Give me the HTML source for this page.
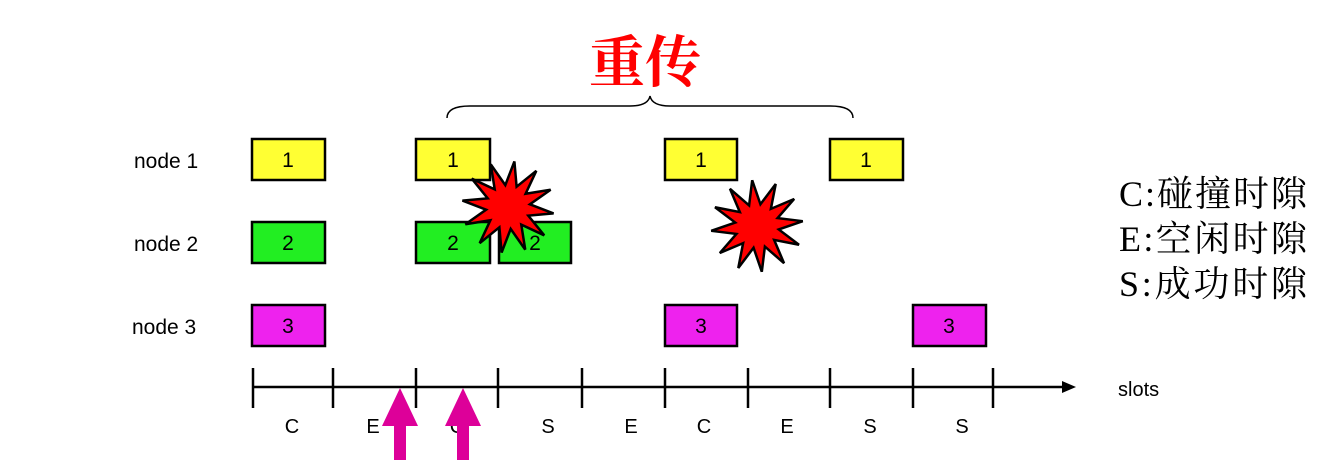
<!DOCTYPE html>
<html><head><meta charset="utf-8"><style>
html,body{margin:0;padding:0;background:#fff;}
</style></head><body>
<svg width="1332" height="467" xmlns="http://www.w3.org/2000/svg" style="display:block">
<defs>
<polygon id="star" points="46,0 21.3,5.7 39.8,23 15.6,15.6 23,39.8 5.7,21.3 0,46 -5.7,21.3 -23,39.8 -15.6,15.6 -39.8,23 -21.3,5.7 -46,0 -21.3,-5.7 -39.8,-23 -15.6,-15.6 -23,-39.8 -5.7,-21.3 0,-46 5.7,-21.3 23,-39.8 15.6,-15.6 39.8,-23 21.3,-5.7" fill="#ff0000" stroke="#000" stroke-width="2.5"/>
</defs>
<text x="645" y="82" text-anchor="middle" font-family="Liberation Serif, Noto Serif CJK SC, serif" font-weight="bold" font-size="56" fill="#ff0000">重传</text>
<path d="M447,118 Q447,106 470,106 L630,106 Q648,106 650,96 Q652,106 670,106 L830,106 Q853,106 853,118" fill="none" stroke="#000" stroke-width="1.5"/>
<g font-family="Liberation Sans, sans-serif" font-size="21" fill="#000">
<text x="134" y="168">node 1</text>
<text x="134" y="251">node 2</text>
<text x="132" y="334">node 3</text>
</g>
<g stroke="#000" stroke-width="2.5" font-family="Liberation Sans, sans-serif" font-size="20" text-anchor="middle">
<rect x="252" y="139" width="73" height="41" fill="#ffff33"/>
<rect x="416" y="139" width="74" height="41" fill="#ffff33"/>
<rect x="665" y="139" width="72" height="41" fill="#ffff33"/>
<rect x="830" y="139" width="73" height="41" fill="#ffff33"/>
<rect x="252" y="222" width="73" height="41" fill="#22ee22"/>
<rect x="416" y="222" width="74" height="41" fill="#22ee22"/>
<rect x="499" y="222" width="72" height="41" fill="#22ee22"/>
<rect x="252" y="305" width="73" height="41" fill="#ee22ee"/>
<rect x="665" y="305" width="72" height="41" fill="#ee22ee"/>
<rect x="913" y="305" width="73" height="41" fill="#ee22ee"/>
</g>
<g font-family="Liberation Sans, sans-serif" font-size="21" text-anchor="middle" fill="#000">
<text x="288" y="167">1</text><text x="453" y="167">1</text><text x="701" y="167">1</text><text x="866" y="167">1</text>
<text x="288" y="250">2</text><text x="453" y="250">2</text><text x="535" y="250">2</text>
<text x="288" y="333">3</text><text x="701" y="333">3</text><text x="949" y="333">3</text>
</g>
<use href="#star" transform="translate(508,207) rotate(8)"/>
<use href="#star" transform="translate(757,226) rotate(-6)"/>
<g stroke="#000" stroke-width="2.5">
<line x1="253" y1="387" x2="1065" y2="387"/>
<line x1="253" y1="368" x2="253" y2="408"/><line x1="333" y1="368" x2="333" y2="408"/>
<line x1="416" y1="368" x2="416" y2="408"/><line x1="498" y1="368" x2="498" y2="408"/>
<line x1="582" y1="368" x2="582" y2="408"/><line x1="665" y1="368" x2="665" y2="408"/>
<line x1="748" y1="368" x2="748" y2="408"/><line x1="830" y1="368" x2="830" y2="408"/>
<line x1="913" y1="368" x2="913" y2="408"/><line x1="993" y1="368" x2="993" y2="408"/>
</g>
<polygon points="1076,387 1062,381 1062,393" fill="#000"/>
<text x="1118" y="396" font-family="Liberation Sans, sans-serif" font-size="20">slots</text>
<g font-family="Liberation Sans, sans-serif" font-size="20" text-anchor="middle" fill="#000">
<text x="292" y="433">C</text><text x="373" y="433">E</text><text x="457" y="433">C</text>
<text x="548" y="433">S</text><text x="631" y="433">E</text><text x="704" y="433">C</text>
<text x="787" y="433">E</text><text x="870" y="433">S</text><text x="962" y="433">S</text>
</g>
<g fill="#dd0099">
<polygon points="400,388 418,426 406,426 406,460 394,460 394,426 382,426"/>
<polygon points="463,388 481,426 469,426 469,460 457,460 457,426 445,426"/>
</g>
<g font-family="Liberation Serif, Noto Serif CJK SC, serif" font-size="36" fill="#000">
<text x="1119" y="206" textLength="188">C:碰撞时隙</text>
<text x="1119" y="251" textLength="188">E:空闲时隙</text>
<text x="1119" y="296" textLength="188">S:成功时隙</text>
</g>
</svg>
</body></html>
